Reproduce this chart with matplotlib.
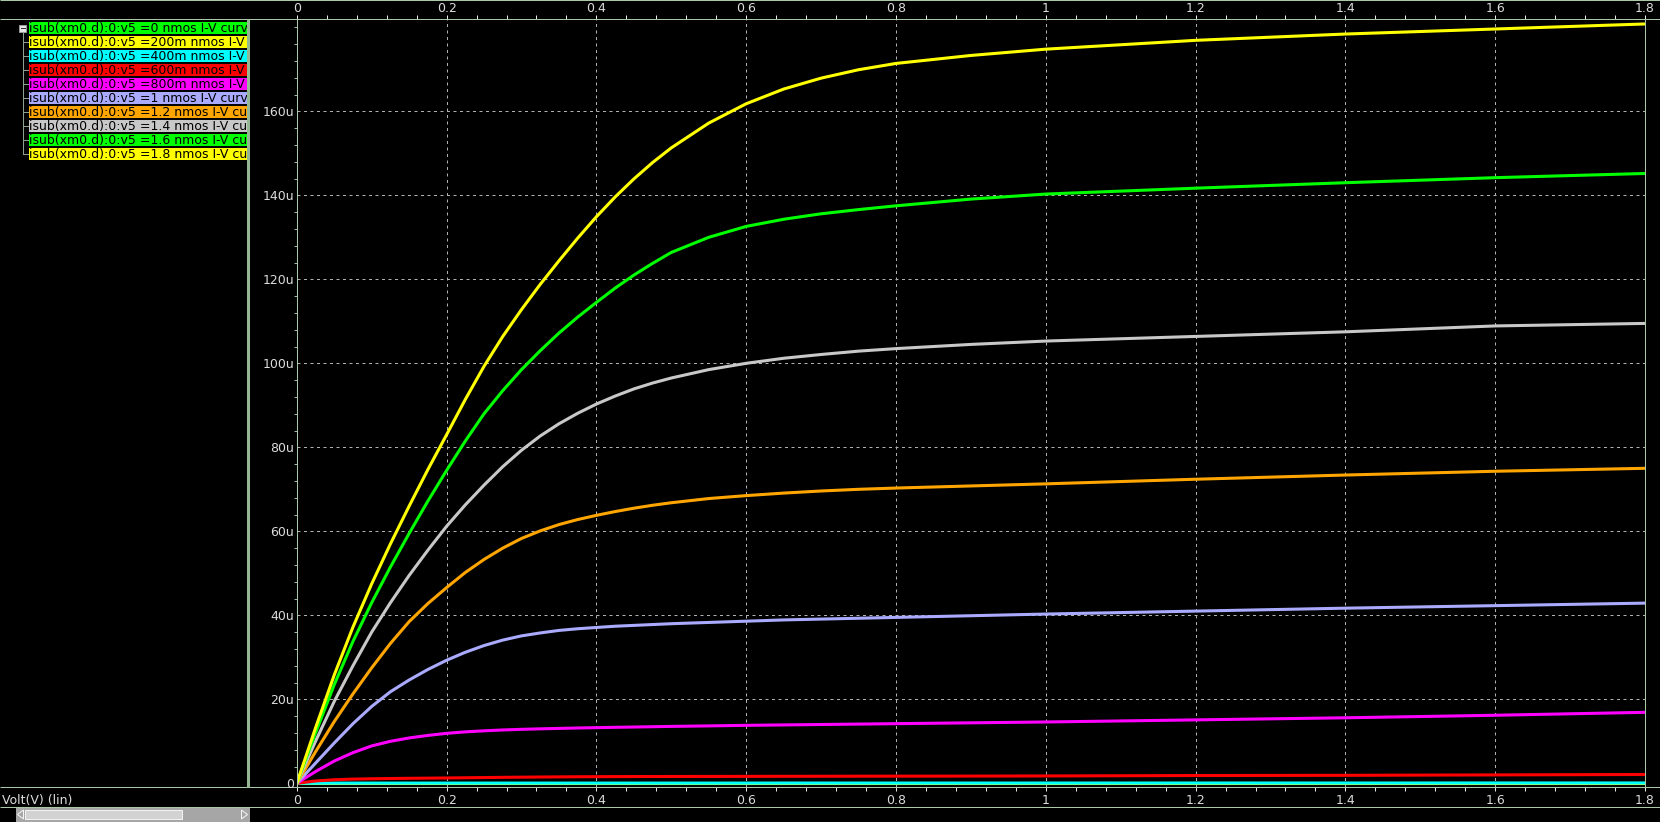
import numpy as np
import matplotlib
matplotlib.use("Agg")
import matplotlib.pyplot as plt
from matplotlib.ticker import MultipleLocator
from matplotlib.patches import Rectangle, Polygon

plt.rcParams['font.family'] = ['DejaVu Sans']

# ---------------- data (drain current in uA vs Vds in V) ----------------
vds = [0, 0.025, 0.05, 0.075, 0.1, 0.125, 0.15, 0.175, 0.2, 0.225, 0.25, 0.275,
       0.3, 0.325, 0.35, 0.375, 0.4, 0.425, 0.45, 0.475, 0.5, 0.55, 0.6, 0.65,
       0.7, 0.75, 0.8, 0.9, 1.0, 1.2, 1.4, 1.6, 1.8]

id_v0 = [0.0] * 33
id_v200m = [0.0] * 33
id_v400m = [0, 0.03, 0.05, 0.05, 0.05, 0.05, 0.05, 0.05, 0.05, 0.05, 0.05, 0.05,
            0.05, 0.05, 0.05, 0.05, 0.05, 0.05, 0.05, 0.05, 0.05, 0.05, 0.05, 0.06,
            0.06, 0.06, 0.06, 0.06, 0.06, 0.07, 0.07, 0.08, 0.08]
id_v600m = [0, 0.55, 0.85, 1.0, 1.08, 1.14, 1.19, 1.23, 1.27, 1.32, 1.37, 1.42,
            1.46, 1.5, 1.53, 1.56, 1.58, 1.6, 1.61, 1.62, 1.63, 1.64, 1.65, 1.67,
            1.68, 1.69, 1.7, 1.72, 1.75, 1.85, 1.9, 2.0, 2.1]
id_v800m = [0, 2.8, 5.3, 7.3, 8.9, 10.0, 10.8, 11.4, 11.9, 12.25, 12.5, 12.7,
            12.85, 12.97, 13.07, 13.17, 13.25, 13.33, 13.4, 13.47, 13.55, 13.67, 13.8, 13.9,
            14.0, 14.1, 14.2, 14.4, 14.6, 15.1, 15.6, 16.2, 16.9]
id_v1 = [0, 4.8, 9.6, 14.2, 18.3, 21.8, 24.6, 27.1, 29.3, 31.2, 32.8, 34.1,
         35.1, 35.8, 36.4, 36.8, 37.1, 37.4, 37.6, 37.8, 38.0, 38.3, 38.6, 38.9,
         39.1, 39.3, 39.5, 39.9, 40.3, 41.0, 41.7, 42.3, 42.9]
id_v1p2 = [0, 7.5, 14.7, 21.3, 27.5, 33.3, 38.5, 42.8, 46.6, 50.2, 53.3, 56.0,
           58.3, 60.1, 61.6, 62.8, 63.8, 64.7, 65.5, 66.2, 66.8, 67.8, 68.5, 69.1,
           69.6, 70.0, 70.3, 70.8, 71.3, 72.4, 73.4, 74.3, 75.0]
id_v1p4 = [0, 10.0, 19.5, 28.0, 36.0, 43.0, 49.5, 55.5, 61.2, 66.3, 71.0, 75.4,
           79.3, 82.7, 85.6, 88.1, 90.3, 92.2, 93.9, 95.3, 96.5, 98.5, 100.0, 101.2,
           102.1, 102.9, 103.5, 104.5, 105.3, 106.4, 107.5, 108.9, 109.5]
id_v1p6 = [0, 12.0, 23.5, 33.8, 43.0, 51.5, 59.5, 67.2, 74.5, 81.5, 88.0, 93.5,
           98.5, 103.0, 107.2, 111.0, 114.5, 117.9, 121.0, 123.8, 126.4, 130.0, 132.6, 134.3,
           135.6, 136.6, 137.5, 139.1, 140.3, 141.7, 143.0, 144.2, 145.2]
id_v1p8 = [0, 13.2, 25.8, 37.2, 47.5, 57.0, 66.0, 74.7, 83.0, 91.4, 99.3, 106.4,
           112.8, 118.8, 124.4, 129.8, 134.9, 139.6, 143.9, 147.8, 151.3, 157.2, 161.8, 165.3,
           167.9, 169.9, 171.4, 173.3, 174.8, 176.9, 178.4, 179.6, 180.8]

series_values = [id_v0, id_v200m, id_v400m, id_v600m, id_v800m,
                 id_v1, id_v1p2, id_v1p4, id_v1p6, id_v1p8]
vgs_labels = ['0', '200m', '400m', '600m', '800m', '1', '1.2', '1.4', '1.6', '1.8']
series_colors = ['#00ff00', '#ffff00', '#00ffff', '#ff0000', '#ff00ff',
                 '#aaaaff', '#ffa500', '#c8c8c8', '#00ff00', '#ffff00']

x_ticks = [0, 0.2, 0.4, 0.6, 0.8, 1.0, 1.2, 1.4, 1.6, 1.8]
x_tick_labels = ['0', '0.2', '0.4', '0.6', '0.8', '1', '1.2', '1.4', '1.6', '1.8']
y_ticks = [0, 20, 40, 60, 80, 100, 120, 140, 160]
y_tick_labels = ['0', '20u', '40u', '60u', '80u', '100u', '120u', '140u', '160u']

# ---------------- figure ----------------
W, H = 1660, 822
fig = plt.figure(figsize=(W / 100, H / 100), dpi=100, facecolor='black')

frame_col = '#a8c8a8'
text_col = '#dcdcdc'
px = 0.72  # one pixel in points
fs = 9.0

# decoration layer in pixel coordinates
deco = fig.add_axes([0, 0, 1, 1], zorder=0)
deco.set_xlim(0, W)
deco.set_ylim(H, 0)
deco.axis('off')
deco.set_facecolor('black')
for yy in (0.5, 19, 787, 807):
    deco.plot([0, W], [yy, yy], color=frame_col, lw=px, solid_capstyle='butt')
deco.plot([248, 248], [19, 787], color='#94b894', lw=3 * px, solid_capstyle='butt')

# tree widget
deco.add_patch(Rectangle((19, 25), 7, 7, facecolor='#e6e6e6', edgecolor='#9a9a9a', lw=px))
deco.plot([20.5, 24.5], [28.5, 28.5], color='#303030', lw=px)
deco.plot([22.7, 22.7], [32, 154], color='#8ca08c', lw=px)
for i in range(1, 10):
    yc = 28 + 14 * i
    deco.plot([22.7, 27.5], [yc, yc], color='#8ca08c', lw=px)

# scrollbar
deco.add_patch(Rectangle((16, 808), 234, 14, facecolor='#a6a6a6', edgecolor='none'))
deco.add_patch(Rectangle((25, 810), 157, 9, facecolor='#d2d2d2', edgecolor='#f2f2f2', lw=px))
deco.add_patch(Polygon([[23.5, 810], [23.5, 819], [17.5, 814.5]], closed=True,
                       fill=False, edgecolor='#f4f4f4', lw=px))
deco.add_patch(Polygon([[241.5, 810], [241.5, 819], [247.5, 814.5]], closed=True,
                       fill=False, edgecolor='#f4f4f4', lw=px))

deco.text(2, 800, 'Volt(V) (lin)', color=text_col, fontsize=fs, va='center', ha='left')
deco.text(298, 28, '(lin)', color=text_col, fontsize=fs, va='center', ha='left')

# legend panel
leg = fig.add_axes([29 / W, 1 - 162 / H, (247 - 29) / W, 140 / H], zorder=2)
leg.set_xlim(29, 247)
leg.set_ylim(162, 22)
leg.axis('off')
for i, (lab, col) in enumerate(zip(vgs_labels, series_colors)):
    top = 22 + 14 * i
    leg.add_patch(Rectangle((29, top), 218, 12.3, facecolor=col, edgecolor='none'))
    leg.text(29.4, top + 6.4, f'isub(xm0.d):0:v5 ={lab} nmos I-V curve',
             color='black', fontsize=fs, va='center', ha='left', clip_on=True)

# main plot
L, R, T, B = 296.8, 1645, 19, 787
ax = fig.add_axes([L / W, (H - B) / H, (R - L) / W, (B - T) / H], zorder=1)
ax.set_facecolor('black')
for vals, col in zip(series_values, series_colors):
    ax.plot(vds, vals, color=col, lw=2.2, solid_joinstyle='round', solid_capstyle='butt')

ax.set_xlim(0, 1.8)
ax.set_ylim(-0.88, 181.98)
for s in ax.spines.values():
    s.set_color(frame_col)
    s.set_linewidth(px)

ax.set_xticks(x_ticks)
ax.set_xticklabels(x_tick_labels)
ax.xaxis.set_minor_locator(MultipleLocator(0.04))
ax.tick_params(axis='x', which='both', bottom=True, top=False, direction='out',
               length=4 * px, width=px, color='#e8e8e8', labelsize=fs,
               labelcolor=text_col, pad=2.0)

sec = ax.secondary_xaxis('top')
sec.set_xticks(x_ticks)
sec.set_xticklabels(x_tick_labels)
sec.xaxis.set_minor_locator(MultipleLocator(0.04))
sec.tick_params(axis='x', which='both', direction='out', length=4 * px, width=px,
                color='#e8e8e8', labelsize=fs, labelcolor=text_col, pad=0.1)
sec.spines['top'].set_color(frame_col)
sec.spines['top'].set_linewidth(px)

ax.set_yticks(y_ticks)
ax.set_yticklabels(y_tick_labels)
ax.yaxis.set_minor_locator(MultipleLocator(4))
ax.tick_params(axis='y', which='major', length=0, pad=2.0, labelsize=fs,
               labelcolor=text_col)
ax.tick_params(axis='y', which='minor', direction='out', length=3 * px, width=px,
               color='#9cbc9c')

ax.grid(which='major', color='#b0b0b0', lw=px, linestyle=(0, (3, 3.5)))
ax.set_axisbelow(True)

fig.savefig('out.png', dpi=100, facecolor='black')
